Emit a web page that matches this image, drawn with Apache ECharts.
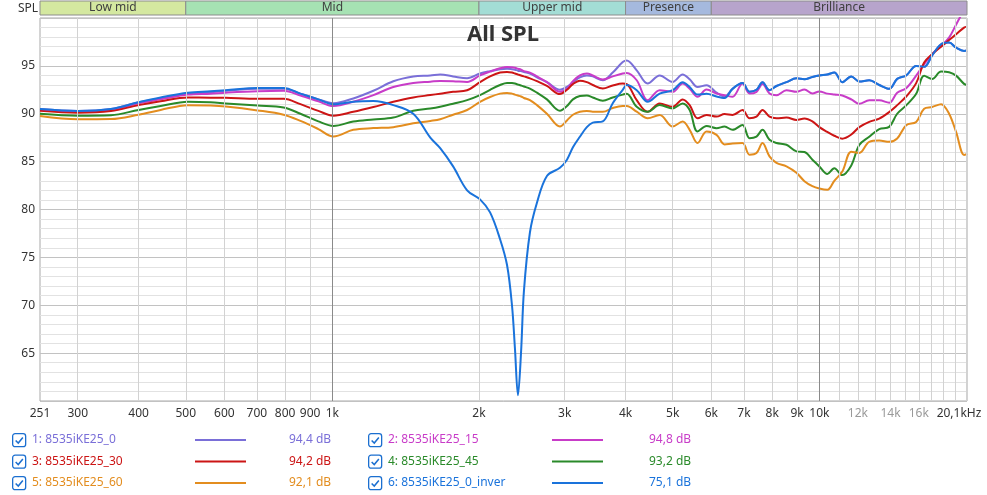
<!DOCTYPE html>
<html>
<head>
<meta charset="utf-8">
<title>All SPL</title>
<script src="https://cdn.jsdelivr.net/npm/echarts@6/dist/echarts.min.js"></script>
<style>
  html, body { margin: 0; padding: 0; background: #fff; }
  #chart { width: 987px; height: 495px; }
</style>
</head>
<body>
<div id="chart"></div>
<script>
// frequency points (Hz) shared by all traces
const freqs = [
  251, 300, 351, 400, 444, 505, 562, 604, 702, 794,
  860, 936, 1005, 1104, 1214, 1334, 1466, 1589, 1665, 1770,
  1891, 2010, 2108, 2210, 2284, 2338, 2371, 2405, 2440, 2474,
  2545, 2631, 2758, 2933, 3032, 3119, 3223, 3331, 3426, 3592,
  3765, 3947, 4022, 4217, 4441, 4700, 4997, 5240, 5416, 5623,
  5867, 6151, 6388, 6633, 6954, 7188, 7429, 7643, 7900, 8165,
  8560, 8974, 9319, 9677, 10000, 10385, 10733, 11146, 11630, 12078,
  12661, 13274, 13914, 14449, 15077, 15806, 16414, 17045, 17783, 18467,
  19087, 19822, 20100
]

// SPL in dB, one array per measurement
const spl0 = [
  90.5, 90.3, 90.5, 91.2, 91.6, 92.1, 92.25, 92.4, 92.6, 92.6,
  92.1, 91.5, 91.1, 91.6, 92.4, 93.4, 93.9, 94.0, 94.1, 93.9,
  93.7, 94.2, 94.45, 94.65, 94.7, 94.65, 94.6, 94.5, 94.45, 94.35,
  94.2, 93.8, 93.3, 92.5, 92.8, 93.3, 93.8, 94.0, 93.9, 93.5,
  94.3, 95.4, 95.57, 94.53, 93.15, 94.0, 93.32, 94.1, 93.6, 92.8,
  92.98, 92.2, 91.8, 92.6, 93.2, 92.3, 92.5, 93.3, 92.46, 92.9,
  93.3, 93.7, 93.6, 93.84, 94.0, 94.1, 94.3, 93.3, 93.9, 93.36,
  93.5, 93.0, 92.6, 93.64, 94.0, 95.0, 94.9, 96.1, 97.26, 97.43,
  96.9, 96.56, 96.6
]
const spl15 = [
  90.4, 90.2, 90.4, 91.1, 91.5, 92.0, 92.1, 92.2, 92.35, 92.4,
  91.9, 91.3, 90.8, 91.25, 91.94, 92.8, 93.22, 93.35, 93.43, 93.4,
  93.32, 94.0, 94.4, 94.75, 94.88, 94.85, 94.8, 94.7, 94.6, 94.45,
  94.3, 93.9, 93.3, 92.3, 92.6, 93.4, 94.0, 94.2, 94.0, 93.57,
  93.9, 94.2, 94.26, 93.5, 91.42, 92.46, 92.29, 93.15, 92.6, 91.77,
  92.53, 92.11, 91.94, 91.77, 93.15, 92.11, 92.29, 93.1, 92.11, 91.94,
  92.46, 92.29, 92.53, 92.11, 92.33, 92.1, 92.0, 91.9, 91.5, 91.04,
  91.4, 91.4, 91.15, 92.2, 92.67, 93.98, 95.19, 96.22, 97.09, 97.95,
  99.3, 100.8, 101.0
]
const spl30 = [
  90.3, 90.1, 90.28, 90.9, 91.3, 91.7, 91.68, 91.66, 91.56, 91.56,
  91.0, 90.3, 89.8, 90.2, 90.7, 91.25, 91.7, 91.95, 92.1, 92.3,
  92.46, 93.3, 93.9, 94.3, 94.36, 94.3, 94.2, 94.1, 94.0, 93.9,
  93.7, 93.4, 92.9, 92.05, 92.5, 93.1, 93.45, 93.3, 93.0, 92.63,
  92.95, 93.15, 93.1, 91.42, 90.21, 91.08, 90.73, 91.5, 90.91, 89.53,
  89.87, 89.7, 89.97, 89.87, 90.39, 89.53, 89.7, 90.39, 89.7, 89.53,
  89.6, 89.35, 89.5, 89.2, 88.6, 88.1, 87.7, 87.4, 87.83, 88.6,
  89.15, 89.5, 90.18, 90.9, 91.8, 93.2, 95.36, 96.22, 97.0, 97.7,
  98.3, 99.0, 99.1
]
const spl45 = [
  90.0, 89.8, 89.85, 90.4, 90.8, 91.25, 91.2, 91.08, 90.85, 90.65,
  90.0, 89.2, 88.73, 89.18, 89.4, 89.6, 90.32, 90.55, 90.73, 91.05,
  91.42, 91.94, 92.5, 93.0, 93.22, 93.2, 93.15, 93.05, 92.95, 92.85,
  92.63, 92.2, 91.5, 90.32, 90.8, 91.5, 91.85, 91.9, 91.7, 91.35,
  91.7, 92.0, 92.1, 90.73, 90.21, 90.91, 90.56, 91.08, 90.39, 88.14,
  88.73, 88.49, 88.66, 88.32, 88.83, 87.45, 87.62, 88.32, 87.28, 86.94,
  86.76, 86.07, 86.0, 85.2, 84.5, 83.7, 84.3, 83.6, 84.6, 86.73,
  87.6, 88.4, 88.63, 90.0, 90.87, 92.08, 93.98, 93.64, 94.4, 94.33,
  93.98, 93.12, 93.0
]
const spl60 = [
  89.77, 89.43, 89.45, 89.9, 90.4, 90.9, 90.85, 90.75, 90.35, 89.9,
  89.25, 88.4, 87.62, 88.32, 88.5, 88.6, 89.0, 89.25, 89.43, 89.9,
  90.39, 91.25, 91.75, 92.1, 92.18, 92.1, 92.0, 91.9, 91.8, 91.65,
  91.42, 90.9, 90.0, 88.66, 89.3, 89.9, 90.21, 90.3, 90.21, 90.21,
  90.6, 90.8, 90.8, 90.21, 89.53, 89.87, 88.66, 89.18, 88.32, 86.94,
  88.14, 87.8, 86.8, 86.9, 86.94, 85.73, 85.9, 86.94, 85.55, 84.87,
  84.51, 83.83, 82.96, 82.44, 82.2, 82.07, 83.0, 83.96, 86.04, 85.9,
  87.07, 87.2, 87.07, 87.42, 88.8, 89.15, 90.52, 90.7, 91.0, 90.0,
  88.1, 85.7, 85.8
]
const spl0Inv = [
  90.5, 90.3, 90.5, 91.2, 91.7, 92.2, 92.35, 92.46, 92.7, 92.7,
  92.1, 91.5, 91.0, 91.25, 91.32, 90.9, 90.0, 87.5, 86.4, 84.5,
  82.0, 81.06, 79.7, 76.9, 74.2, 70.0, 65.5, 60.6, 65.0, 71.5,
  77.6, 80.7, 83.5, 84.35, 85.2, 86.5, 87.6, 88.6, 89.07, 89.2,
  91.1, 92.5, 93.0, 92.46, 91.25, 92.11, 92.46, 93.3, 92.8, 92.0,
  92.1, 91.8, 91.65, 92.6, 93.2, 92.3, 92.5, 93.3, 92.46, 92.9,
  93.3, 93.7, 93.6, 93.84, 94.0, 94.1, 94.3, 93.3, 93.9, 93.36,
  93.5, 93.0, 92.6, 93.64, 94.0, 95.0, 94.9, 96.1, 97.26, 97.43,
  96.9, 96.56, 96.6
]

const seriesNames = ['1: 8535iKE25_0', '2: 8535iKE25_15', '3: 8535iKE25_30', '4: 8535iKE25_45', '5: 8535iKE25_60', '6: 8535iKE25_0_inver']
const seriesValues = [spl0, spl15, spl30, spl45, spl60, spl0Inv]
const legendLevels = ['94,4 dB', '94,8 dB', '94,2 dB', '93,2 dB', '92,1 dB', '75,1 dB']
const colors = ['#7a6fd8', '#c83cc8', '#cc1515', '#2a8a2a', '#e38d1f', '#1a73db']

// x axis tick labels and grid lines
const tickFreqs = [251, 300, 400, 500, 600, 700, 800, 900, 1000, 2000, 3000, 4000, 5000, 6000, 7000, 8000, 9000, 10000, 12000, 14000, 16000, 20100]
const tickLabels = ['251', '300', '400', '500', '600', '700', '800', '900', '1k', '2k', '3k', '4k', '5k', '6k', '7k', '8k', '9k', '10k', '12k', '14k', '16k', '20,1kHz']
const greyTicks = ['12k', '14k', '16k']
const gridFreqs = [300, 400, 500, 600, 700, 800, 900, 1000, 2000, 3000, 4000, 5000, 6000, 7000, 8000, 9000, 10000,
  11000, 12000, 13000, 14000, 15000, 16000, 17000, 18000, 19000, 20000]
const majorFreqs = [1000, 10000]

// frequency bands on top strip
const bandNames = ['Low mid', 'Mid', 'Upper mid', 'Presence', 'Brilliance']
const bandEdges = [251, 500, 2000, 4000, 6000, 20100]
const bandColors = ['#d4e8a0', '#a6e2b3', '#a3ddd5', '#a5b9de', '#b7a4cc']

const FONT = '"Noto Sans", "Open Sans", sans-serif'

const chart = echarts.init(document.getElementById('chart'))

const gridMarks = gridFreqs.map(f => ({
  xAxis: f,
  lineStyle: { color: majorFreqs.includes(f) ? '#8a8a8a' : '#d2d2d2', width: 1, type: 'solid' },
  label: { show: false },
}))
const tickMarks = tickFreqs.map((f, i) => ({
  xAxis: f,
  lineStyle: { color: 'rgba(0,0,0,0)', width: 1 },
  label: {
    show: true,
    position: 'start',
    distance: 7,
    formatter: tickLabels[i],
    color: greyTicks.includes(tickLabels[i]) ? '#9a9a9a' : '#333',
    fontSize: 12,
    fontFamily: FONT,
    // last label sits at the right border, nudge it inside the canvas
    padding: i === tickFreqs.length - 1 ? [0, 16, 0, 0] : 0,
  },
}))

const bandAreas = bandNames.map((name, i) => ([
  { xAxis: bandEdges[i], name, itemStyle: { color: bandColors[i], borderColor: '#8c8c8c', borderWidth: 1 } },
  { xAxis: bandEdges[i + 1] },
]))

// legend drawn as graphic elements
const legendGraphics = []
seriesNames.forEach((name, i) => {
  const row = Math.floor(i / 2)
  const col = i % 2
  const y = 440 + row * 21.5
  const x0 = col === 0 ? 12 : 368
  const lineX = col === 0 ? 195 : 552
  const valX = col === 0 ? 289 : 649
  legendGraphics.push({
    type: 'group',
    left: x0,
    top: y - 7,
    children: [
      { type: 'rect', shape: { x: 0, y: 0, width: 13, height: 13, r: 2.5 }, style: { fill: '#fff', stroke: '#1b6fd0', lineWidth: 1.3 } },
      { type: 'polyline', shape: { points: [[3, 6.8], [5.6, 9.4], [10.2, 3.8]] }, style: { fill: null, stroke: '#1b6fd0', lineWidth: 1.5 } },
    ],
  })
  legendGraphics.push({
    type: 'text', x: x0 + 20, y,
    style: { text: name, fill: colors[i], font: '12px ' + FONT, textVerticalAlign: 'middle' },
  })
  legendGraphics.push({
    type: 'line', shape: { x1: lineX, y1: y, x2: lineX + 51, y2: y },
    style: { stroke: colors[i], lineWidth: 2 },
  })
  legendGraphics.push({
    type: 'text', x: valX, y,
    style: { text: legendLevels[i], fill: colors[i], font: '12px ' + FONT, textVerticalAlign: 'middle' },
  })
})

const option = {
  animation: false,
  backgroundColor: '#fff',
  grid: [
    { left: 40, right: 20, top: 18, bottom: 94, show: true, borderColor: '#a8a8a8', borderWidth: 1 },
    { left: 40, right: 20, top: 1, height: 14 },
  ],
  xAxis: [
    {
      type: 'log', gridIndex: 0, min: 251, max: 20100, logBase: 10,
      axisLabel: { show: false }, axisTick: { show: false }, axisLine: { show: false }, splitLine: { show: false },
    },
    {
      type: 'log', gridIndex: 1, min: 251, max: 20100, logBase: 10,
      axisLabel: { show: false }, axisTick: { show: false }, axisLine: { show: false }, splitLine: { show: false },
    },
  ],
  yAxis: [
    {
      type: 'value', gridIndex: 0, min: 60, max: 100, interval: 5,
      axisLine: { show: false }, axisTick: { show: false },
      axisLabel: {
        margin: 5, color: '#333', fontSize: 12, fontFamily: FONT,
        formatter: v => (v === 60 || v === 100 ? '' : String(v)),
      },
      splitLine: { lineStyle: { color: '#c2c2c2', width: 1 } },
      minorTick: { show: false, splitNumber: 5 },
      minorSplitLine: { show: true, lineStyle: { color: '#e2e2e2', width: 1 } },
    },
    {
      type: 'value', gridIndex: 1, min: 0, max: 1, show: false,
    },
  ],
  graphic: [
    { type: 'text', x: 18, y: 9, style: { text: 'SPL', fill: '#333', font: '12px ' + FONT, textVerticalAlign: 'middle' } },
    { type: 'text', x: 503, y: 35, z: 10, style: { text: 'All SPL', fill: '#333', font: 'bold 22px ' + FONT, textAlign: 'center', textVerticalAlign: 'middle' } },
    ...legendGraphics,
  ],
  series: [
    {
      type: 'line', xAxisIndex: 0, yAxisIndex: 0, z: 1, silent: true,
      data: [],
      markLine: { silent: true, symbol: ['none', 'none'], animation: false, data: [...gridMarks, ...tickMarks] },
    },
    {
      type: 'line', xAxisIndex: 1, yAxisIndex: 1, silent: true,
      data: [],
      markArea: {
        silent: true,
        label: { show: true, position: 'inside', color: '#404040', fontSize: 12, fontFamily: FONT },
        data: bandAreas,
      },
    },
    ...seriesNames.map((name, i) => ({
      name,
      type: 'line',
      xAxisIndex: 0,
      yAxisIndex: 0,
      z: 3,
      symbol: 'none',
      smooth: 0.35,
      lineStyle: { color: colors[i], width: 2 },
      itemStyle: { color: colors[i] },
      data: freqs.map((f, k) => [f, seriesValues[i][k]]),
    })),
  ],
}

chart.setOption(option)
</script>
</body>
</html>
